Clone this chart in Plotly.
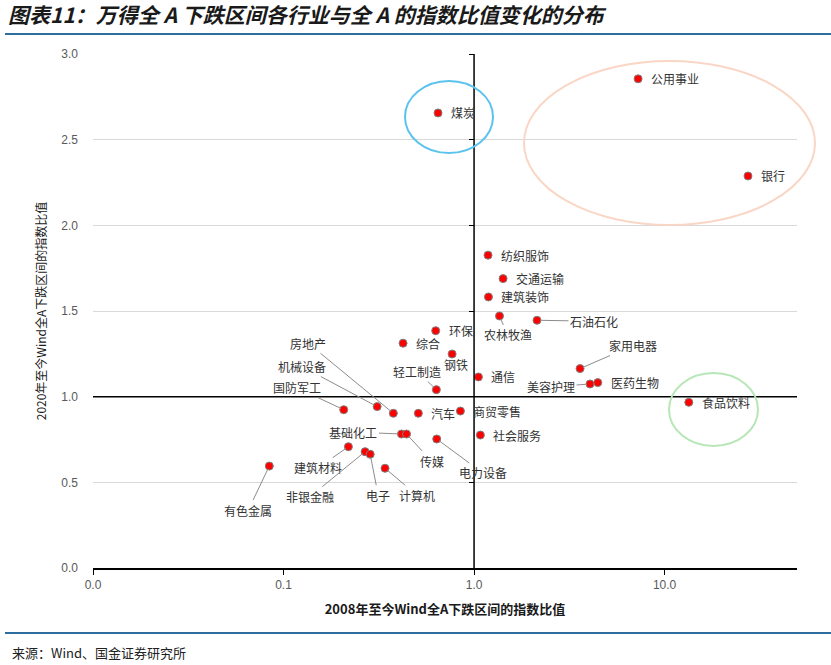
import numpy as np
import plotly.graph_objects as go

# ---------------- data ----------------
industries = ["煤炭", "公用事业", "银行", "纺织服饰", "交通运输", "建筑装饰", "农林牧渔",
              "石油石化", "环保", "钢铁", "综合", "轻工制造", "通信", "家用电器", "美容护理",
              "医药生物", "食品饮料", "商贸零售", "社会服务", "汽车", "国防军工", "机械设备",
              "房地产", "基础化工", "传媒", "电力设备", "建筑材料", "非银金融", "电子",
              "计算机", "有色金属"]
x_ratio_2008 = [0.647, 7.26, 27.4, 1.184, 1.42, 1.19, 1.36,
                2.14, 0.629, 0.767, 0.424, 0.634, 1.054, 3.60, 4.06,
                4.46, 13.4, 0.848, 1.079, 0.510, 0.207, 0.310,
                0.377, 0.416, 0.442, 0.637, 0.219, 0.268, 0.285,
                0.341, 0.0842]
y_ratio_2020 = [2.656, 2.855, 2.288, 1.826, 1.689, 1.582, 1.471,
                1.446, 1.385, 1.249, 1.312, 1.041, 1.115, 1.164, 1.074,
                1.082, 0.967, 0.916, 0.776, 0.903, 0.924, 0.942,
                0.903, 0.782, 0.782, 0.753, 0.708, 0.679, 0.664,
                0.582, 0.595]
x_tick_vals = [0.01, 0.1, 1, 10]
x_tick_text = ["0.0", "0.1", "1.0", "10.0"]

title_text = "图表11：万得全 A 下跌区间各行业与全 A 的指数比值变化的分布"
x_title = "<b>2008年至今Wind全A下跌区间的指数比值</b>"
y_title = "2020年至今Wind全A下跌区间的指数比值"
source_text = "来源：Wind、国金证券研究所"

# ---------------- label placement (styles) ----------------
leader = {
    "有色金属": (-21, 44), "建筑材料": (-30, 21), "非银金融": (-55, 45),
    "电子": (8, 41), "计算机": (32, 27), "基础化工": (-48, -2),
    "传媒": (25, 27), "电力设备": (46, 34), "国防军工": (-47, -22),
    "机械设备": (-75, -40), "房地产": (-85, -70), "轻工制造": (-19, -18),
    "农林牧渔": (8, 19), "石油石化": (57, 1), "家用电器": (53, -23),
    "美容护理": (-39, 3),
}
plain = {"钢铁": (4, -10, "center")}

label_font = dict(family="Noto Sans CJK SC", size=12, color="#333333")

fig = go.Figure()

x_range = [-2, 1.695]
y_range = [0, 3]

fig.add_trace(go.Scatter(x=[1, 1], y=y_range, mode="lines",
                         line=dict(color="black", width=1.5),
                         yaxis="y2", hoverinfo="skip", showlegend=False))

fig.add_trace(go.Scatter(
    x=x_ratio_2008, y=y_ratio_2020, mode="markers", text=industries,
    marker=dict(color="#FF0000", size=8, line=dict(color="#7F7F7F", width=1)),
    showlegend=False))

annotations = []
for name, xv, yv in zip(industries, x_ratio_2008, y_ratio_2020):
    lx = float(np.log10(xv))
    if name in leader:
        ax, ay = leader[name]
        annotations.append(dict(x=lx, y=yv, xref="x", yref="y", text=name,
                                showarrow=True, arrowhead=0, arrowwidth=1,
                                arrowcolor="#8C8C8C", ax=ax, ay=ay,
                                standoff=3, font=label_font))
    elif name in plain:
        xs, ys, xa = plain[name]
        annotations.append(dict(x=lx, y=yv, xref="x", yref="y", text=name,
                                showarrow=False, xshift=xs, yshift=ys,
                                xanchor=xa, font=label_font))
    else:
        annotations.append(dict(x=lx, y=yv, xref="x", yref="y", text=name,
                                showarrow=False, xanchor="left", xshift=11,
                                font=label_font))

annotations.append(dict(text=source_text, xref="paper", yref="paper",
                        x=(10 - 93) / 704, y=(568 - 652) / 514, xanchor="left",
                        yanchor="middle", showarrow=False,
                        font=dict(family="Noto Sans CJK SC", size=13, color="#222222")))

def px_x(p):
    return (p - 93) / 704

def px_y(p):
    return (568 - p) / 514

shapes = [
    dict(type="line", xref="paper", yref="y", x0=0, x1=1, y0=1, y1=1,
         line=dict(color="black", width=1.5), layer="above"),
    dict(type="line", xref="paper", yref="paper", x0=px_x(5), x1=px_x(831),
         y0=px_y(34), y1=px_y(34), line=dict(color="#2E6E9E", width=2)),
    dict(type="line", xref="paper", yref="paper", x0=px_x(5), x1=px_x(831),
         y0=px_y(633), y1=px_y(633), line=dict(color="#2E6E9E", width=2)),
    dict(type="circle", xref="paper", yref="paper", x0=px_x(405), x1=px_x(493),
         y0=px_y(153), y1=px_y(81), line=dict(color="#5BC3EE", width=2)),
    dict(type="circle", xref="paper", yref="paper", x0=px_x(524), x1=px_x(815),
         y0=px_y(225), y1=px_y(61), line=dict(color="#F9D6C5", width=2)),
    dict(type="circle", xref="paper", yref="paper", x0=px_x(669), x1=px_x(758),
         y0=px_y(446), y1=px_y(373), line=dict(color="#B7E6B7", width=2)),
]

tick_font = dict(family="Liberation Sans", size=12, color="#595959")
y2_pos = (0 - x_range[0]) / (x_range[1] - x_range[0])

fig.update_layout(
    width=831, height=665,
    margin=dict(l=93, r=34, t=54, b=97),
    paper_bgcolor="white", plot_bgcolor="white",
    title=dict(text=title_text, x=8 / 831, xanchor="left", y=1 - 16 / 665,
               yanchor="middle",
               font=dict(family="Noto Sans CJK SC", size=21, color="#1a1a1a",
                         weight="bold", style="italic")),
    xaxis=dict(type="log", range=x_range, tickvals=x_tick_vals, ticktext=x_tick_text,
               showgrid=False, zeroline=False, showline=True, linecolor="black",
               linewidth=1.5, ticks="outside", ticklen=5, tickcolor="black",
               tickfont=tick_font,
               title=dict(text=x_title, standoff=14,
                          font=dict(family="Noto Sans CJK SC", size=13, color="#1a1a1a"))),
    yaxis=dict(range=y_range, dtick=0.5, tickformat=".1f", showgrid=True,
               gridcolor="#D9D9D9", gridwidth=1, zeroline=False, showline=False,
               ticks="", tickfont=tick_font, ticklabelstandoff=14,
               title=dict(text=y_title, standoff=12,
                          font=dict(family="Noto Sans CJK SC", size=12, color="#1a1a1a"))),
    yaxis2=dict(range=y_range, dtick=0.5, overlaying="y", anchor="free",
                position=y2_pos, side="left", showgrid=False, zeroline=False,
                showline=False, ticks="outside", ticklen=5, tickcolor="black",
                showticklabels=False),
    annotations=annotations,
    shapes=shapes,
)

fig.write_html("out.html")
